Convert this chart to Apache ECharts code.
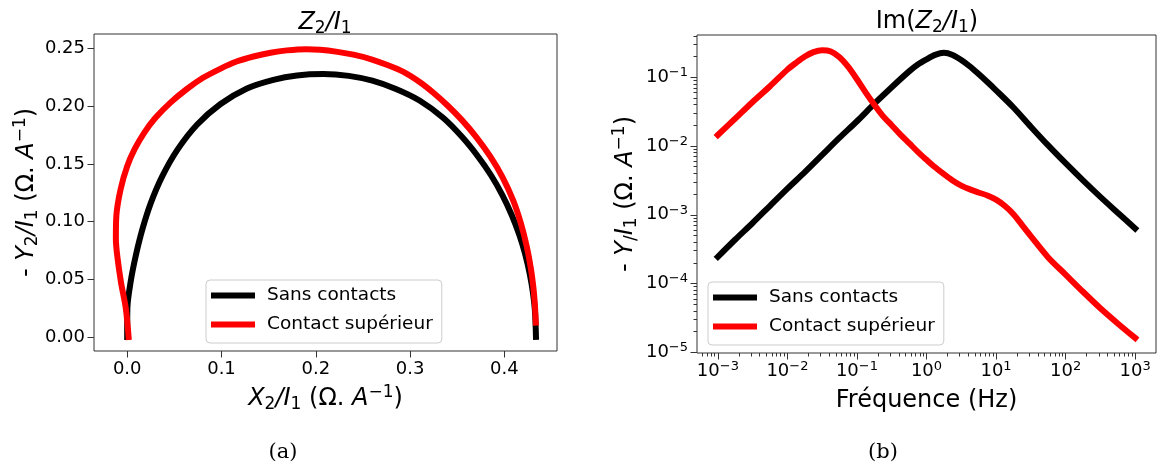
<!DOCTYPE html>
<html>
<head>
<meta charset="utf-8">
<script src="https://cdn.jsdelivr.net/npm/echarts@6/dist/echarts.min.js"></script>
<style>
html,body{margin:0;padding:0;background:#fff;}
#chart{width:1160px;height:468px;}
</style>
</head>
<body>
<div id="chart"></div>
<script>
// ---------- Data ----------
const seriesNames = ['Sans contacts', 'Contact supérieur'];

// (a) Nyquist plot: X2/I1 vs -Y2/I1
const nyqSansX = [0.0000, 0.0002, 0.0035, 0.0090, 0.0160, 0.0250, 0.0370, 0.0530, 0.0740, 0.0990, 0.1270, 0.1550, 0.1800, 0.2080, 0.2350, 0.2600, 0.2850, 0.3100, 0.3350, 0.3550, 0.3720, 0.3860, 0.3980, 0.4080, 0.4160, 0.4220, 0.4270, 0.4305, 0.4325, 0.4335];
const nyqSansY = [0.000, 0.025, 0.047, 0.070, 0.093, 0.116, 0.139, 0.162, 0.184, 0.202, 0.2155, 0.2230, 0.2268, 0.2280, 0.2264, 0.2222, 0.2150, 0.2050, 0.1900, 0.1735, 0.1565, 0.1400, 0.1228, 0.1053, 0.0881, 0.0719, 0.0543, 0.0371, 0.0215, 0.0000];
const nyqContactX = [0.0015, -0.0015, -0.0065, -0.0105, -0.0120, -0.0115, -0.0070, 0.0000, 0.0080, 0.0180, 0.0300, 0.0456, 0.0633, 0.0800, 0.0986, 0.1160, 0.1339, 0.1520, 0.1693, 0.1900, 0.2046, 0.2230, 0.2399, 0.2580, 0.2752, 0.2930, 0.3105, 0.3250, 0.3400, 0.3550, 0.3700, 0.3850, 0.3985, 0.4095, 0.4175, 0.4237, 0.4280, 0.4306, 0.4323, 0.4333];
const nyqContactY = [0.000, 0.025, 0.047, 0.070, 0.085, 0.105, 0.128, 0.148, 0.163, 0.177, 0.190, 0.2030, 0.2150, 0.2245, 0.2325, 0.2388, 0.2432, 0.2465, 0.2485, 0.2495, 0.2490, 0.2472, 0.2448, 0.2410, 0.2360, 0.2298, 0.2208, 0.2115, 0.2005, 0.1880, 0.1735, 0.1565, 0.1378, 0.1180, 0.0985, 0.0785, 0.0598, 0.0440, 0.0285, 0.0125];

// (b) Bode plot: frequency (Hz) vs -Im
const freqSans = [0.001, 0.00178, 0.00316, 0.00562, 0.01, 0.0178, 0.0316, 0.0562, 0.1, 0.178, 0.316, 0.562, 0.75, 1, 1.33, 1.78, 2.37, 3.16, 4.22, 5.62, 7.5, 10, 17.8, 31.6, 56.2, 100, 178, 316, 562, 1000];
const imSans = [2.45e-4, 4.37e-4, 7.59e-4, 1.35e-3, 2.40e-3, 4.17e-3, 7.41e-3, 1.32e-2, 2.29e-2, 4.12e-2, 7.16e-2, 0.1216, 0.153, 0.182, 0.211, 0.226, 0.211, 0.178, 0.143, 0.111, 0.0851, 0.0646, 0.0363, 0.0191, 0.0102, 0.00562, 0.00316, 0.00182, 0.00107, 0.000631];
const freqContact = [0.001, 0.00178, 0.00316, 0.00562, 0.01, 0.0133, 0.0178, 0.0237, 0.0316, 0.0422, 0.0562, 0.075, 0.1, 0.133, 0.178, 0.237, 0.316, 0.422, 0.562, 0.75, 1, 1.33, 1.78, 2.37, 3.16, 4.22, 5.62, 7.5, 10, 13.3, 17.8, 23.7, 31.6, 56.2, 100, 178, 316, 562, 1000];
const imContact = [1.445e-2, 2.51e-2, 4.37e-2, 7.41e-2, 0.129, 0.162, 0.200, 0.232, 0.247, 0.237, 0.195, 0.141, 0.0933, 0.0603, 0.0398, 0.0272, 0.0200, 0.0146, 0.0110, 0.00822, 0.00631, 0.00490, 0.00389, 0.00316, 0.00266, 0.00234, 0.00211, 0.00191, 0.00166, 0.00135, 0.00102, 0.000708, 0.00049, 0.00024, 0.000135, 7.59e-5, 4.37e-5, 2.63e-5, 1.62e-5];

// tick labels
const nyqXTicks = [0.0, 0.1, 0.2, 0.3, 0.4];
const nyqYTicks = [0.00, 0.05, 0.10, 0.15, 0.20, 0.25];
const bodeXDecades = [-3, -2, -1, 0, 1, 2, 3];
const bodeYDecades = [-5, -4, -3, -2, -1];

// ---------- Chart ----------
const FONT = 'DejaVu Sans';
const BLACK = '#000000', RED = '#ff0000', FRAME = '#333333';

function rich(fs) {
  const L = Math.round(fs * 1.2);
  const base = {fontFamily: FONT, fontWeight: 'normal', color: '#000'};
  return {
    n: {...base, fontSize: fs, lineHeight: L},
    i: {...base, fontSize: fs, fontStyle: 'italic', lineHeight: L},
    sub: {...base, fontSize: Math.round(fs * 0.7), lineHeight: Math.round(L - 0.3 * fs), verticalAlign: 'bottom'},
    sup: {...base, fontSize: Math.round(fs * 0.7), lineHeight: Math.round(L - 0.62 * fs), verticalAlign: 'top'}
  };
}
const LBL = 24;
const richLbl = rich(LBL);
const powRich = {
  b: {fontFamily: FONT, fontSize: 18, lineHeight: 22, color: '#000'},
  s: {fontFamily: FONT, fontSize: 13, lineHeight: 11, verticalAlign: 'top', color: '#000'}
};
function powLabel(v) {
  const n = Math.round(v);
  return '{b|10}{s|' + (n < 0 ? '\u2212' : '') + Math.abs(n) + '}';
}
function minorLogs(lo, hi) {
  const out = [];
  for (let d = Math.floor(lo) - 1; d <= Math.ceil(hi); d++) {
    for (let k = 2; k <= 9; k++) {
      const v = d + Math.log10(k);
      if (v >= lo && v <= hi) out.push(v);
    }
  }
  return out;
}

const bodeX = [-3.3, 3.3];
const bodeY = [-5.01, -0.386];

const tickStyle = {lineStyle: {color: FRAME, width: 1}};
const labelBase = {fontFamily: FONT, fontSize: 18, color: '#000'};
const noLine = {show: false, onZero: false};
const titleStyle = {rich: richLbl, fontFamily: FONT, fontSize: LBL, fontWeight: 'normal', lineHeight: 29, color: '#000'};

const chart = echarts.init(document.getElementById('chart'), null, {renderer: 'canvas'});
chart.setOption({
  animation: false,
  backgroundColor: '#fff',
  title: [
    {text: '{i|Z}{sub|2}{i|/I}{sub|1}', left: 325, top: 8, textAlign: 'center', padding: 0, textStyle: titleStyle},
    {text: '{n|Im(}{i|Z}{sub|2}{i|/I}{sub|1}{n|)}', left: 927, top: 7, textAlign: 'center', padding: 0, textStyle: titleStyle},
    {text: '(a)', left: 283, top: 440, textAlign: 'center', padding: 0,
     textStyle: {fontFamily: 'DejaVu Serif', fontSize: 21, fontWeight: 'normal', color: '#000', lineHeight: 26}},
    {text: '(b)', left: 883, top: 440, textAlign: 'center', padding: 0,
     textStyle: {fontFamily: 'DejaVu Serif', fontSize: 21, fontWeight: 'normal', color: '#000', lineHeight: 26}}
  ],
  legend: [
    {left: 206, top: 280, orient: 'vertical', icon: 'rect', itemWidth: 44, itemHeight: 6, itemGap: 10,
     padding: [6, 9, 9, 5], backgroundColor: 'rgba(255,255,255,0.8)', borderColor: '#cccccc', borderWidth: 1, borderRadius: 4,
     selectedMode: false, data: seriesNames,
     textStyle: {fontFamily: FONT, fontSize: 18.5, color: '#000', padding: [0, 0, 0, 7]}},
    {left: 708, top: 282, orient: 'vertical', icon: 'rect', itemWidth: 44, itemHeight: 6, itemGap: 10,
     padding: [6, 9, 9, 5], backgroundColor: 'rgba(255,255,255,0.8)', borderColor: '#cccccc', borderWidth: 1, borderRadius: 4,
     selectedMode: false, data: seriesNames,
     textStyle: {fontFamily: FONT, fontSize: 18.5, color: '#000', padding: [0, 0, 0, 7]}}
  ],
  grid: [
    {left: 94, top: 34, width: 463, height: 317, show: true, borderColor: FRAME, borderWidth: 1, backgroundColor: 'transparent', containLabel: false, outerBoundsMode: 'none'},
    {left: 697, top: 35, width: 459, height: 318, show: true, borderColor: FRAME, borderWidth: 1, backgroundColor: 'transparent', containLabel: false, outerBoundsMode: 'none'}
  ],
  xAxis: [
    {type: 'value', gridIndex: 0, min: -0.0352, max: 0.4558, position: 'bottom',
     axisLine: noLine, splitLine: {show: false},
     axisTick: {show: true, length: 6.5, customValues: nyqXTicks, ...tickStyle},
     axisLabel: {customValues: nyqXTicks, margin: 9, formatter: v => v.toFixed(1), ...labelBase},
     name: '{i|X}{sub|2}{i|/I}{sub|1}{n| (Ω. }{i|A}{sup|\u22121}{n|)}', nameLocation: 'middle', nameGap: 33,
     nameTextStyle: titleStyle},
    {type: 'value', gridIndex: 1, min: bodeX[0], max: bodeX[1], position: 'bottom',
     axisLine: noLine, splitLine: {show: false},
     axisTick: {show: true, length: 6.5, customValues: bodeXDecades, ...tickStyle},
     axisLabel: {customValues: bodeXDecades, margin: 7, formatter: powLabel, rich: powRich, ...labelBase},
     name: 'Fréquence (Hz)', nameLocation: 'middle', nameGap: 33,
     nameTextStyle: {fontFamily: FONT, fontSize: LBL, lineHeight: 29, color: '#000'}},
    {type: 'value', gridIndex: 1, min: bodeX[0], max: bodeX[1], position: 'bottom',
     axisLine: noLine, splitLine: {show: false}, axisLabel: {show: false},
     axisTick: {show: true, length: 3.5, customValues: minorLogs(bodeX[0], bodeX[1]), ...tickStyle}}
  ],
  yAxis: [
    {type: 'value', gridIndex: 0, min: -0.0122, max: 0.2627, position: 'left',
     axisLine: noLine, splitLine: {show: false},
     axisTick: {show: true, length: 6.5, customValues: nyqYTicks, ...tickStyle},
     axisLabel: {customValues: nyqYTicks, margin: 9, formatter: v => v.toFixed(2), ...labelBase},
     name: '{n|- }{i|Y}{sub|2}{i|/I}{sub|1}{n| (Ω. }{i|A}{sup|\u22121}{n|)}', nameLocation: 'middle', nameGap: 52, nameRotate: 90,
     nameTextStyle: titleStyle},
    {type: 'value', gridIndex: 1, min: bodeY[0], max: bodeY[1], position: 'left',
     axisLine: noLine, splitLine: {show: false},
     axisTick: {show: true, length: 6.5, customValues: bodeYDecades, ...tickStyle},
     axisLabel: {customValues: bodeYDecades, margin: 9, formatter: powLabel, rich: powRich, ...labelBase},
     name: '{n|- }{i|Y}{sub|/}{i|I}{sub|1}{n| (Ω. }{i|A}{sup|\u22121}{n|)}', nameLocation: 'middle', nameGap: 57, nameRotate: 90,
     nameTextStyle: titleStyle},
    {type: 'value', gridIndex: 1, min: bodeY[0], max: bodeY[1], position: 'left',
     axisLine: noLine, splitLine: {show: false}, axisLabel: {show: false},
     axisTick: {show: true, length: 3.5, customValues: minorLogs(bodeY[0], bodeY[1]), ...tickStyle}}
  ],
  series: [
    {name: seriesNames[0], type: 'line', xAxisIndex: 0, yAxisIndex: 0, symbol: 'none', showSymbol: false, smooth: 0.3,
     data: nyqSansX.map((x, i) => [x, nyqSansY[i]]),
     itemStyle: {color: BLACK}, lineStyle: {color: BLACK, width: 6, cap: 'square'}},
    {name: seriesNames[1], type: 'line', xAxisIndex: 0, yAxisIndex: 0, symbol: 'none', showSymbol: false, smooth: 0.3,
     data: nyqContactX.map((x, i) => [x, nyqContactY[i]]),
     itemStyle: {color: RED}, lineStyle: {color: RED, width: 6, cap: 'square'}},
    {name: seriesNames[0], type: 'line', xAxisIndex: 1, yAxisIndex: 1, symbol: 'none', showSymbol: false, smooth: 0.3,
     data: freqSans.map((f, i) => [Math.log10(f), Math.log10(imSans[i])]),
     itemStyle: {color: BLACK}, lineStyle: {color: BLACK, width: 6, cap: 'square'}},
    {name: seriesNames[1], type: 'line', xAxisIndex: 1, yAxisIndex: 1, symbol: 'none', showSymbol: false, smooth: 0.3,
     data: freqContact.map((f, i) => [Math.log10(f), Math.log10(imContact[i])]),
     itemStyle: {color: RED}, lineStyle: {color: RED, width: 6, cap: 'square'}}
  ]
});
</script>
</body>
</html>
